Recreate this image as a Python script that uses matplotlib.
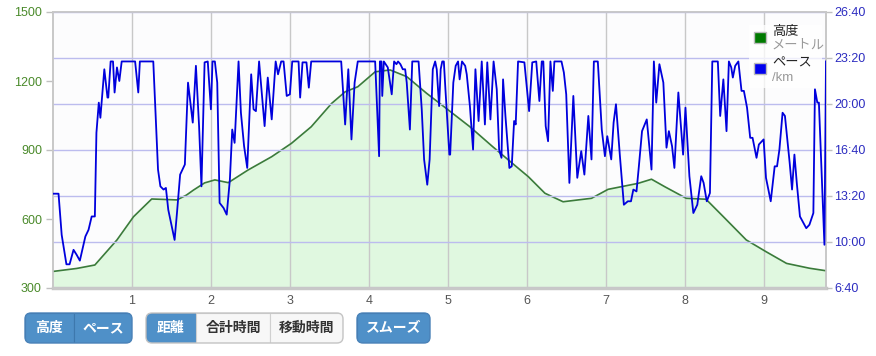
import matplotlib
matplotlib.use('Agg')
import matplotlib.pyplot as plt
from matplotlib.patches import FancyBboxPatch, Rectangle
from matplotlib.ticker import FuncFormatter

plt.rcParams['font.family'] = ['Liberation Sans', 'Noto Sans CJK JP']

# elevation profile (km, m)
elev_points = [(0.00, 372), (0.30, 385), (0.53, 400), (0.81, 509), (1.02, 610),
               (1.25, 687), (1.57, 683), (1.69, 704), (1.78, 726), (1.92, 757),
               (2.05, 770), (2.22, 758), (2.47, 813), (2.77, 871), (3.02, 929),
               (3.27, 1001), (3.53, 1103), (3.70, 1153), (3.86, 1175), (4.08, 1240),
               (4.27, 1248), (4.48, 1219), (4.73, 1147), (4.98, 1081), (5.28, 1001),
               (5.57, 914), (5.87, 827), (6.02, 784), (6.23, 712), (6.46, 675),
               (6.82, 690), (7.03, 729), (7.41, 755), (7.58, 773), (7.75, 740),
               (8.02, 690), (8.27, 686), (8.49, 610), (8.78, 509), (9.03, 458),
               (9.29, 407), (9.58, 386), (9.79, 375)]

# pace (km, seconds per km)
pace_points = [(0.00, 810), (0.07, 810), (0.11, 631), (0.14, 566), (0.17, 503),
               (0.21, 503), (0.26, 566), (0.30, 544), (0.34, 519), (0.41, 624),
               (0.45, 653), (0.49, 711), (0.53, 711), (0.55, 1075), (0.58, 1206),
               (0.60, 1140), (0.65, 1351), (0.69, 1228), (0.70, 1228), (0.73, 1385),
               (0.76, 1385), (0.78, 1250), (0.81, 1359), (0.84, 1300), (0.87, 1385),
               (1.04, 1385), (1.08, 1250), (1.10, 1385), (1.27, 1385), (1.33, 915),
               (1.36, 842), (1.40, 828), (1.43, 835), (1.46, 740), (1.54, 609),
               (1.57, 726), (1.61, 893), (1.67, 937), (1.71, 1293), (1.77, 1119),
               (1.81, 1366), (1.85, 1104), (1.88, 842), (1.92, 1381), (1.96, 1385),
               (2.00, 1177), (2.02, 1385), (2.05, 1385), (2.08, 1293), (2.11, 770),
               (2.16, 748), (2.20, 719), (2.24, 871), (2.27, 1089), (2.30, 1031),
               (2.35, 1385), (2.38, 1162), (2.42, 1017), (2.46, 922), (2.51, 1329),
               (2.54, 1177), (2.57, 1169), (2.61, 1385), (2.68, 1104), (2.72, 1315),
               (2.77, 1133), (2.82, 1385), (2.85, 1329), (2.89, 1385), (2.92, 1385),
               (2.96, 1235), (3.00, 1242), (3.03, 1385), (3.11, 1385), (3.13, 1228),
               (3.16, 1381), (3.21, 1381), (3.24, 1271), (3.27, 1385), (3.65, 1385),
               (3.70, 1111), (3.74, 1351), (3.78, 1046), (3.82, 1293), (3.86, 1385),
               (4.08, 1385), (4.13, 973), (4.14, 1385), (4.16, 1385), (4.17, 1235),
               (4.19, 1385), (4.24, 1359), (4.29, 1242), (4.32, 1385), (4.35, 1373),
               (4.37, 1385), (4.40, 1373), (4.43, 1351), (4.46, 1351), (4.48, 1293),
               (4.52, 1089), (4.55, 1385), (4.63, 1385), (4.67, 1177), (4.70, 959),
               (4.74, 849), (4.77, 959), (4.81, 1351), (4.84, 1385), (4.86, 1351),
               (4.89, 1191), (4.91, 1351), (4.93, 1385), (4.95, 1385), (4.97, 1264),
               (5.02, 980), (5.03, 980), (5.07, 1293), (5.10, 1366), (5.13, 1385),
               (5.15, 1307), (5.18, 1385), (5.22, 1366), (5.24, 1329), (5.28, 1191),
               (5.32, 1002), (5.35, 1351), (5.39, 1126), (5.43, 1385), (5.47, 1111),
               (5.50, 1381), (5.54, 1133), (5.58, 1385), (5.62, 1264), (5.65, 1002),
               (5.68, 966), (5.70, 1307), (5.73, 1148), (5.78, 922), (5.81, 929),
               (5.84, 1126), (5.86, 1111), (5.89, 1385), (5.97, 1381), (6.03, 1169),
               (6.07, 1381), (6.12, 1385), (6.16, 1213), (6.19, 1385), (6.21, 1385),
               (6.24, 1104), (6.27, 1038), (6.30, 1385), (6.33, 1257), (6.35, 1385),
               (6.44, 1385), (6.47, 1337), (6.50, 1242), (6.54, 857), (6.59, 1235),
               (6.64, 879), (6.69, 995), (6.73, 893), (6.78, 1148), (6.82, 959),
               (6.85, 1385), (6.90, 1385), (6.95, 1089), (6.99, 973), (7.02, 1060),
               (7.07, 959), (7.10, 1119), (7.13, 1199), (7.18, 973), (7.23, 762),
               (7.28, 777), (7.32, 777), (7.35, 828), (7.39, 820), (7.42, 929),
               (7.46, 1082), (7.52, 1133), (7.58, 915), (7.61, 1385), (7.64, 1206),
               (7.68, 1373), (7.73, 1293), (7.77, 1010), (7.80, 1082), (7.84, 1017),
               (7.87, 922), (7.92, 1250), (7.98, 980), (8.01, 1184), (8.06, 886),
               (8.11, 726), (8.16, 762), (8.21, 886), (8.24, 857), (8.28, 777),
               (8.32, 813), (8.35, 1385), (8.42, 1385), (8.45, 1148), (8.49, 1307),
               (8.53, 1082), (8.56, 1385), (8.59, 1359), (8.61, 1315), (8.64, 1366),
               (8.68, 1385), (8.72, 1257), (8.75, 1257), (8.79, 1184), (8.83, 1053),
               (8.86, 1053), (8.91, 966), (8.94, 1024), (9.00, 1046), (9.03, 879),
               (9.09, 777), (9.14, 929), (9.17, 929), (9.20, 1002), (9.24, 1162),
               (9.27, 1148), (9.33, 944), (9.36, 828), (9.39, 980), (9.42, 857),
               (9.46, 711), (9.54, 660), (9.58, 675), (9.63, 726), (9.65, 1264),
               (9.68, 1206), (9.70, 1206), (9.77, 588), (9.79, 1385)]

elev_ticks = [300, 600, 900, 1200, 1500]
pace_ticks = [400, 600, 800, 1000, 1200, 1400, 1600]
km_ticks = [1, 2, 3, 4, 5, 6, 7, 8, 9]

elev_km, elev_m = zip(*elev_points)
pace_km, pace_sec = zip(*pace_points)

W, H = 876, 356
fig = plt.figure(figsize=(W / 100, H / 100), dpi=100)
fig.patch.set_facecolor('white')

# axes box in pixels: x 53..826, y 12..288
ax = fig.add_axes([53 / W, 1 - 288 / H, 773 / W, 276 / H])
ax.set_facecolor('#fcfcfd')
ax2 = ax.twinx()

ax.fill_between(elev_km, elev_m, 300, color='#e0f8e0', zorder=1)
ax.plot(elev_km, elev_m, color='#3b7b3b', lw=1.2, zorder=3)
ax.set_xlim(0, 9.79)
ax.set_ylim(300, 1500)
ax.set_yticks(elev_ticks)
ax.set_xticks(km_ticks)
ax.set_axisbelow(False)
ax.grid(axis='x', color='#c8c8c8', lw=1, zorder=2)

ax2.plot(pace_km, pace_sec, color='#0000dd', lw=1.3, zorder=3)
ax2.set_ylim(400, 1600)
ax2.set_yticks(pace_ticks)
ax2.yaxis.set_major_formatter(FuncFormatter(lambda v, p: '%d:%02d' % (int(v) // 60, int(v) % 60)))
ax2.grid(axis='y', color='#bcbcee', lw=1)

for a in (ax, ax2):
    for s in a.spines.values():
        s.set_color('#c8c8c8')
        s.set_linewidth(1.2)
ax.spines['bottom'].set_linewidth(2.5)

ax.tick_params(axis='y', colors='#c0c0c0', labelcolor='#4a8a2a', labelsize=9, length=5, width=1, pad=3)
ax.tick_params(axis='x', length=0, labelcolor='#555555', labelsize=9, pad=5)
ax2.tick_params(axis='y', colors='#c0c0c0', labelcolor='#2c2cc0', labelsize=9, length=4, width=1, pad=2)

# legend drawn by hand so each entry can carry a grey unit line
ax2.add_patch(Rectangle((0.900, 0.725), 0.095, 0.228, transform=ax2.transAxes,
                        facecolor='white', alpha=0.75, edgecolor='none', zorder=5))
ax2.add_patch(Rectangle((0.907, 0.886), 0.0155, 0.040, transform=ax2.transAxes,
                        facecolor='#007a00', edgecolor='#bbbbbb', lw=1, zorder=6))
ax2.add_patch(Rectangle((0.907, 0.777), 0.0155, 0.040, transform=ax2.transAxes,
                        facecolor='#0000ee', edgecolor='#bbbbbb', lw=1, zorder=6))
ax2.text(0.930, 0.928, '高度', transform=ax2.transAxes, fontsize=9.5, color='#222222',
         va='center', ha='left', zorder=7)
ax2.text(0.930, 0.877, 'メートル', transform=ax2.transAxes, fontsize=9.5, color='#999999',
         va='center', ha='left', zorder=7)
ax2.text(0.930, 0.815, 'ペース', transform=ax2.transAxes, fontsize=9.5, color='#222222',
         va='center', ha='left', zorder=7)
ax2.text(0.930, 0.761, '/km', transform=ax2.transAxes, fontsize=9.5, color='#999999',
         va='center', ha='left', zorder=7)

# buttons under the chart (pixel coords, converted to inches)
tr = fig.dpi_scale_trans
blue = '#4f90c8'


def group(x0, x1, cells, edgecolor):
    y0, y1 = 313, 343
    box = FancyBboxPatch((x0 / 100, (H - y1) / 100), (x1 - x0) / 100, (y1 - y0) / 100,
                         boxstyle='round,pad=0,rounding_size=0.06', transform=tr,
                         facecolor='white', edgecolor='none')
    fig.add_artist(box)
    for cx0, cx1, label, on in cells:
        r = Rectangle((cx0 / 100, (H - y1) / 100), (cx1 - cx0) / 100, (y1 - y0) / 100,
                      transform=tr, facecolor=blue if on else '#f7f7f7',
                      edgecolor='#3d78ad' if on else '#d0d0d0', lw=0.8)
        fig.add_artist(r)
        r.set_clip_path(box)
        fig.text((cx0 + cx1) / 2 / W, 1 - (y0 + y1) / 2 / H, label,
                 family='Noto Sans CJK JP', fontsize=10, fontweight='bold',
                 color='white' if on else '#333333', ha='center', va='center')
    edge = FancyBboxPatch((x0 / 100, (H - y1) / 100), (x1 - x0) / 100, (y1 - y0) / 100,
                          boxstyle='round,pad=0,rounding_size=0.06', transform=tr,
                          facecolor='none', edgecolor=edgecolor, lw=1)
    fig.add_artist(edge)


group(25, 132, [(25, 74, '高度', True), (74, 132, 'ペース', True)], '#4a82b8')
group(146, 343, [(146, 196, '距離', True), (196, 270, '合計時間', False),
                 (270, 343, '移動時間', False)], '#c4c4c4')
group(357, 430, [(357, 430, 'スムーズ', True)], '#4a82b8')

plt.savefig('out.png', dpi=100)
